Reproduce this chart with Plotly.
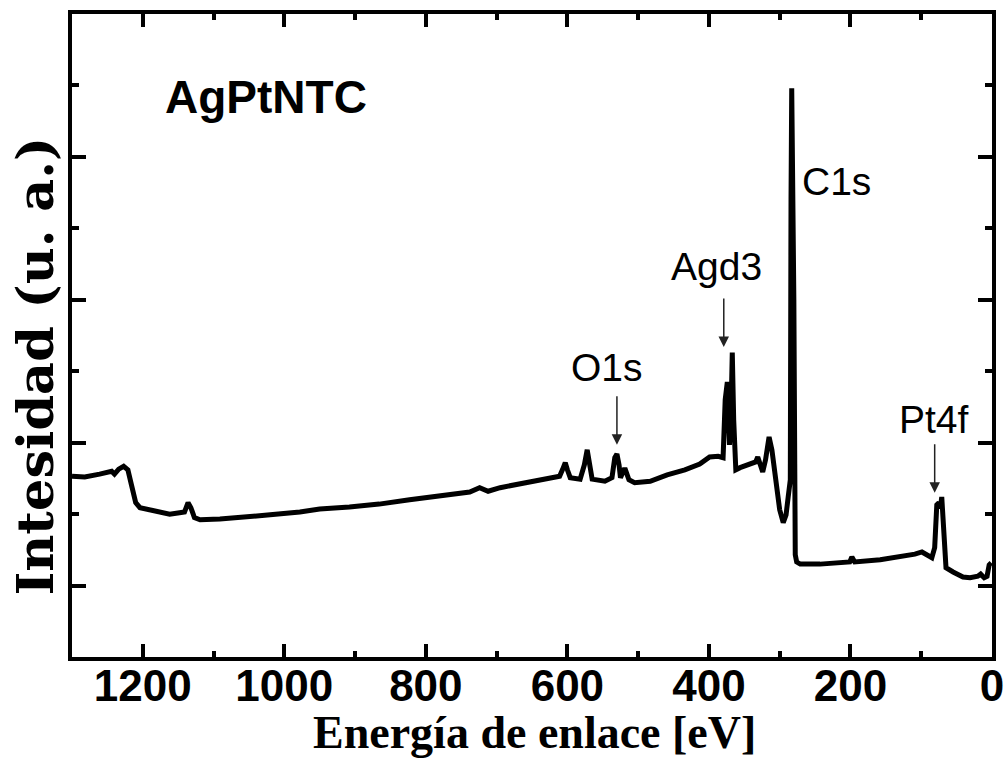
import plotly.graph_objects as go

# XPS survey spectrum: binding energy (eV) and intensity (a.u.)
energia_ev = [
    1300, 1282, 1261, 1244, 1240, 1234, 1227, 1221, 1216, 1210, 1204, 1190, 1176, 1162,
    1148, 1141, 1136, 1132, 1127, 1119, 1091, 1063, 1020, 978, 950, 908, 866, 823, 780,
    738, 724, 712, 695, 653, 618, 611, 607, 603, 600, 596, 582, 576, 572, 569, 565, 547,
    537, 533, 530, 527, 525, 520, 518, 513, 505, 483, 459, 434, 413, 399, 387, 380, 377,
    374, 371, 369, 367, 365, 362, 356, 342, 334, 331, 328, 324, 320, 315, 311, 305, 300,
    295, 291, 288, 285, 284, 283, 280, 278, 276, 271, 243, 215, 201, 198, 194, 158, 130,
    109, 99, 90, 85, 81, 78, 75, 73, 71, 68, 65, 55, 41, 31, 20, 16, 11, 7, 4, 1,
]
intensidad = [
    2.53, 2.52, 2.56, 2.60, 2.56, 2.63, 2.67, 2.62, 2.41, 2.16, 2.09, 2.06, 2.02, 2.00,
    2.02, 2.03, 2.16, 2.09, 1.95, 1.92, 1.93, 1.96, 1.99, 2.03, 2.07, 2.10, 2.14, 2.20, 2.25,
    2.31, 2.37, 2.32, 2.37, 2.45, 2.52, 2.53, 2.62, 2.72, 2.62, 2.51, 2.49, 2.69, 2.90, 2.73, 2.49, 2.46,
    2.51, 2.79, 2.84, 2.69, 2.51, 2.62, 2.62, 2.48, 2.44, 2.46, 2.55, 2.62, 2.70, 2.80, 2.81, 2.79, 3.60,
    3.85, 2.97, 3.32, 4.26, 3.32, 2.62, 2.65, 2.70, 2.73, 2.80, 2.69, 2.59, 2.76, 3.08, 2.90, 2.48, 2.06,
    1.88, 1.99, 2.24, 2.48, 6.40, 7.96, 5.00, 1.43, 1.33, 1.30, 1.30, 1.32, 1.33, 1.40, 1.33, 1.36, 1.40,
    1.44, 1.47, 1.41, 1.39, 1.53, 2.13, 2.16, 2.08, 2.24, 1.64, 1.25, 1.19, 1.12, 1.11, 1.13, 1.16, 1.11, 1.13, 1.29, 1.32,
]

# Peak labels: (text, x, y) and arrows: (tip x, tip y)
etiquetas = ["AgPtNTC", "C1s", "Agd3", "O1s", "Pt4f"]
etiqueta_x = [1026, 220, 390, 544, 82]
etiqueta_y = [7.84, 6.66, 5.47, 4.05, 3.32]
flecha_x = [379, 530, 81]
flecha_y = [4.34, 2.97, 2.30]

x_ticks = [1200, 1000, 800, 600, 400, 200, 0]

fig = go.Figure()
fig.add_trace(go.Scatter(
    x=energia_ev, y=intensidad, mode="lines",
    line=dict(color="black", width=5),
    showlegend=False, hoverinfo="skip",
))

for i, txt in enumerate(etiquetas):
    bold = i == 0
    fig.add_annotation(
        x=etiqueta_x[i], y=etiqueta_y[i], text=txt, showarrow=False,
        xanchor="center", yanchor="middle",
        font=dict(family="Liberation Sans, Arial", size=46 if bold else 39,
                  color="black", weight="bold" if bold else "normal"),
    )

for fx, fy in zip(flecha_x, flecha_y):
    fig.add_annotation(
        x=fx, y=fy, text="", showarrow=True, ax=0, ay=-50,
        arrowhead=2, arrowsize=1.4, arrowwidth=1.5, arrowcolor="#222222",
    )

# Axis titles
fig.add_annotation(
    xref="paper", yref="paper", x=0.503, y=-0.118, yanchor="middle", xanchor="center",
    text="Energía de enlace [eV]", showarrow=False,
    font=dict(family="Liberation Serif, Times New Roman", size=46, color="black", weight="bold"),
)
fig.add_annotation(
    xref="paper", yref="paper", x=-0.040, y=0.452, yanchor="middle", xanchor="center",
    text="Intesidad (u. a.)", showarrow=False, textangle=-90,
    font=dict(family="DejaVu Serif", size=51, color="black", weight="bold"),
)

fig.update_xaxes(
    range=[1300, 0], autorange=False, automargin=False,
    tickmode="array", tickvals=x_ticks, ticktext=[str(v) for v in x_ticks],
    ticks="inside", ticklen=13, tickwidth=4, tickcolor="black",
    ticklabelstandoff=-13,
    minor=dict(tickmode="linear", tick0=0, dtick=100, ticks="inside", ticklen=6,
               tickwidth=4, tickcolor="black"),
    showline=True, linewidth=4, linecolor="black", mirror="ticks",
    showgrid=False, zeroline=False,
    tickfont=dict(family="Liberation Sans, Arial", size=44, color="black", weight="bold"),
)
fig.update_yaxes(
    range=[0, 9], autorange=False, automargin=False,
    tickmode="linear", tick0=1, dtick=2, showticklabels=False,
    ticks="inside", ticklen=14, tickwidth=4, tickcolor="black",
    minor=dict(tickmode="linear", tick0=0, dtick=1, ticks="inside", ticklen=7,
               tickwidth=4, tickcolor="black"),
    showline=True, linewidth=4, linecolor="black", mirror="ticks",
    showgrid=False, zeroline=False,
)

fig.update_layout(
    width=1005, height=759,
    margin=dict(l=72, r=13, t=14, b=102),
    paper_bgcolor="white", plot_bgcolor="white",
)

fig.write_html("out.html")
